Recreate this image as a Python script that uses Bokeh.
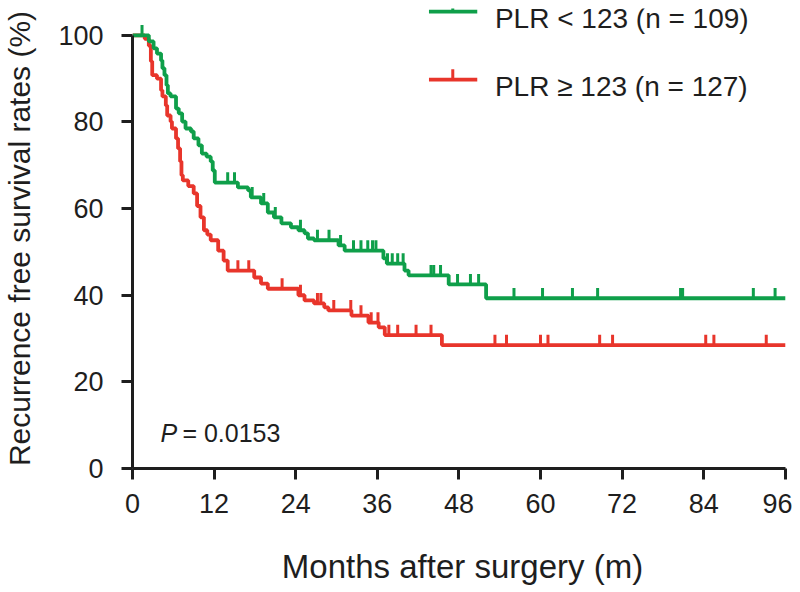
import numpy as np
from bokeh.plotting import figure
from bokeh.models import Range1d, FixedTicker
from bokeh.embed import file_html
from bokeh.resources import INLINE
from bokeh.core.properties import value

# ---------------- data ----------------
x_ticks = [0, 12, 24, 36, 48, 60, 72, 84, 96]
y_ticks = [0, 20, 40, 60, 80, 100]
follow_up_end = 96

# PLR < 123 (n = 109): event times (months) and survival (%) after each step
low_times = [0, 2.4, 3.1, 3.6, 4.2, 4.4, 4.7, 5.0, 5.2, 5.6,
             6.4, 6.8, 7.3, 7.8, 8.6, 9.0, 9.7, 10.2, 10.9, 11.5,
             11.8, 12.1, 15.5, 17.0, 17.4, 18.9, 19.9, 20.8, 21.9, 23.3,
             24.4, 25.3, 25.8, 26.7, 30.3, 31.2, 36.9, 37.4, 40.0, 40.6,
             46.5, 52.0]
low_surv = [100, 98.6, 97.0, 95.8, 94.2, 92.4, 90.8, 88.5, 86.6, 85.9,
            83.1, 82.0, 80.1, 78.5, 77.8, 76.2, 74.6, 72.7, 72.0, 70.9,
            68.8, 66.0, 64.9, 64.2, 62.6, 61.2, 59.1, 58.0, 56.6, 55.7,
            55.0, 54.3, 53.1, 52.7, 51.5, 50.3, 48.5, 47.3, 45.7, 44.6,
            42.5, 39.3]
low_censored = [1.4, 14.0, 15.0, 17.6, 19.3, 21.0, 24.7, 27.2, 28.9, 30.6,
                32.5, 33.6, 34.6, 35.3, 35.8, 37.5, 38.2, 39.0, 39.8, 43.9,
                44.3, 45.3, 47.8, 49.7, 50.9, 56.1, 60.3, 64.7, 68.4, 80.6,
                80.9, 91.3, 94.5]

# PLR >= 123 (n = 127)
high_times = [0, 1.8, 2.4, 2.7, 2.9, 3.6, 4.2, 4.4, 4.9, 5.1,
              5.6, 5.8, 6.4, 6.7, 7.0, 7.2, 7.4, 8.2, 9.0, 9.5,
              10.0, 10.5, 11.0, 11.5, 12.6, 13.4, 14.0, 17.9, 18.9, 19.9,
              24.4, 25.3, 26.7, 28.2, 28.8, 32.2, 34.7, 36.2, 37.1, 45.5]
high_surv = [100, 99.2, 97.6, 94.0, 90.8, 90.0, 87.3, 85.9, 83.8, 81.5,
             80.1, 78.5, 76.2, 73.9, 70.9, 67.7, 66.5, 65.2, 63.5, 60.6,
             58.0, 55.0, 54.0, 52.7, 50.3, 48.0, 45.7, 44.1, 42.7, 41.5,
             40.0, 38.8, 38.1, 37.2, 36.5, 35.3, 33.7, 32.6, 30.8, 28.5]
high_censored = [15.5, 17.1, 22.0, 24.7, 27.2, 27.7, 29.6, 32.1, 33.6, 35.1,
                 36.1, 37.7, 39.0, 41.7, 43.9, 53.3, 55.0, 60.0, 61.1, 68.7,
                 70.6, 84.3, 85.5, 93.2]

label_low = "PLR < 123 (n = 109)"
label_high = "PLR \u2265 123 (n = 127)"
p_value = "0.0153"

# ---------------- style ----------------
FONT = "Liberation Sans"
INK = "#1e1e1e"
GREEN = "#0f9f4a"
RED = "#e8352b"
TICK_H = 2.4  # censor mark height in % units

p = figure(frame_width=660, frame_height=460,
           x_range=Range1d(0, 97.06), y_range=Range1d(0, 106.2),
           output_backend="svg", toolbar_location=None,
           min_border_left=132, min_border_right=0,
           min_border_top=8, min_border_bottom=124)
p.outline_line_color = None
p.xgrid.visible = False
p.ygrid.visible = False
p.background_fill_color = "white"
p.border_fill_color = "white"

for ax, ticks, bounds in ((p.xaxis[0], x_ticks, (0, 96)), (p.yaxis[0], y_ticks, (0, 100))):
    ax.ticker = FixedTicker(ticks=ticks)
    ax.bounds = bounds
    ax.axis_line_width = 3
    ax.axis_line_color = INK
    ax.major_tick_line_width = 3
    ax.major_tick_line_color = INK
    ax.major_tick_out = 11
    ax.major_tick_in = 0
    ax.minor_tick_line_color = None
    ax.major_label_text_font = FONT
    ax.major_label_text_font_size = "27px"
    ax.major_label_text_color = INK
    ax.axis_label_text_font = FONT
    ax.axis_label_text_font_style = "normal"
    ax.axis_label_text_color = INK

p.xaxis.major_label_standoff = 14
p.yaxis.major_label_standoff = 18
p.xaxis.axis_label = "Months after surgery (m)"
p.xaxis.axis_label_text_font_size = "33px"
p.xaxis.axis_label_standoff = 32
p.yaxis.axis_label = "Recurrence free survival rates (%)"
p.yaxis.axis_label_text_font_size = "30px"
p.yaxis.axis_label_standoff = 19


def km_arrays(times, surv):
    xs = list(times) + [follow_up_end]
    ys = list(surv) + [surv[-1]]
    return xs, ys


def level_at(times, surv, t):
    idx = np.searchsorted(np.asarray(times), np.asarray(t), side="right") - 1
    return np.asarray(surv)[idx]


for times, surv, cens, color in ((high_times, high_surv, high_censored, RED),
                                 (low_times, low_surv, low_censored, GREEN)):
    xs, ys = km_arrays(times, surv)
    p.step(xs, ys, mode="after", line_color=color, line_width=3.8)
    lv = level_at(times, surv, cens)
    p.segment(x0=cens, y0=lv, x1=cens, y1=lv + TICK_H,
              line_color=color, line_width=3)

# legend (drawn)
leg_x0, leg_x1, leg_xm, leg_tx = 43.6, 50.7, 47.1, 53.3
for yl, yt, color, txt in ((105.5, 104.0, GREEN, label_low),
                           (89.8, 88.2, RED, label_high)):
    p.segment(x0=[leg_x0], y0=[yl], x1=[leg_x1], y1=[yl], line_color=color, line_width=3.8)
    p.segment(x0=[leg_xm], y0=[yl], x1=[leg_xm], y1=[yl + TICK_H], line_color=color, line_width=3)
    p.text(x=[leg_tx], y=[yt], text=[txt], text_font=value(FONT), text_font_size="28px",
           text_baseline="middle", text_align="left", text_color=INK)

# P value
p.text(x=[4.1], y=[8.1], text=["P"], text_font=value(FONT), text_font_size="25px",
       text_font_style="italic", text_baseline="middle", text_color=INK)
p.text(x=[4.1], y=[8.1], text=["= " + p_value], text_font=value(FONT), text_font_size="25px",
       x_offset=22, text_baseline="middle", text_color=INK)

open("out.html", "w").write(file_html(p, INLINE))
